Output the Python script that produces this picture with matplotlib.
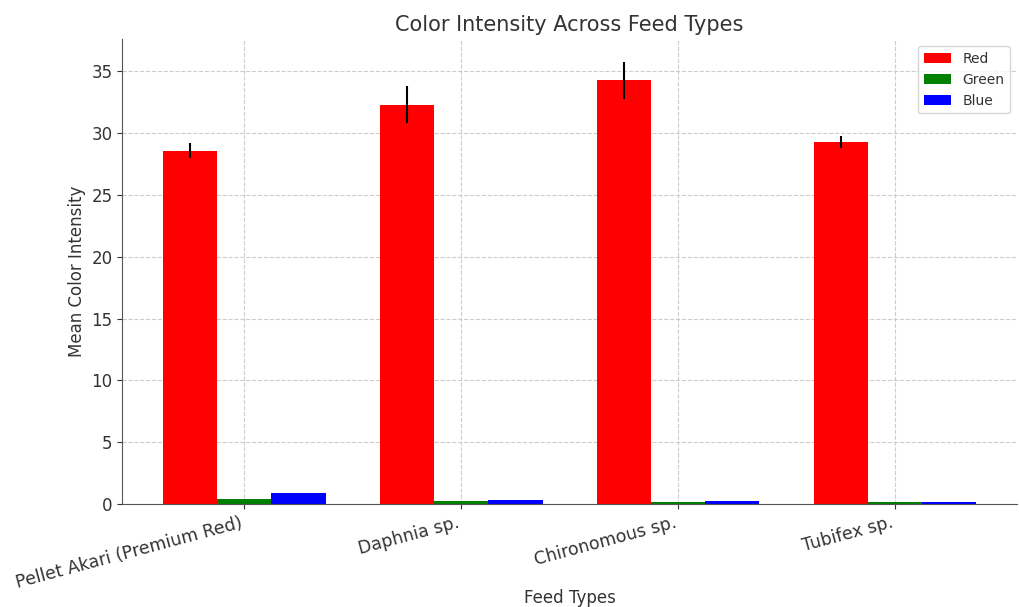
import numpy as np
import matplotlib
matplotlib.use("Agg")
import matplotlib.pyplot as plt

# data
feed_types = ["Pellet Akari (Premium Red)", "Daphnia sp.", "Chironomous sp.", "Tubifex sp."]
red_mean = [28.6, 32.3, 34.3, 29.3]
red_err = [0.6, 1.5, 1.5, 0.5]
green_mean = [0.4, 0.25, 0.15, 0.15]
blue_mean = [0.9, 0.3, 0.25, 0.15]

text_col = "#333333"
plt.rcParams["text.color"] = text_col
plt.rcParams["axes.labelcolor"] = text_col
plt.rcParams["xtick.color"] = text_col
plt.rcParams["ytick.color"] = text_col

x = np.arange(len(feed_types))
w = 0.25

fig, ax = plt.subplots(figsize=(10.2, 6.07), dpi=100)
ax.bar(x - w, red_mean, w, yerr=red_err, color="red", label="Red",
       error_kw=dict(ecolor="black", elinewidth=1.5))
ax.bar(x, green_mean, w, color="green", label="Green")
ax.bar(x + w, blue_mean, w, color="blue", label="Blue")

ax.set_title("Color Intensity Across Feed Types", fontsize=15)
ax.set_xlabel("Feed Types", fontsize=12)
ax.xaxis.set_label_coords(0.5, -0.183)
ax.set_ylabel("Mean Color Intensity", fontsize=12)
ax.set_xticks(x)
ax.set_xticklabels(feed_types, rotation=15, ha="right", fontsize=12.5)
ax.tick_params(axis="y", labelsize=12)

ax.grid(True, linestyle="--", color="#cccccc", linewidth=0.8)
ax.set_axisbelow(True)
ax.spines["top"].set_visible(False)
ax.spines["right"].set_visible(False)
ax.spines["left"].set_color("#555555")
ax.spines["bottom"].set_color("#555555")
ax.legend(loc="upper right", fontsize=10)

fig.subplots_adjust(left=0.12, right=0.997, top=0.935, bottom=0.17)
fig.savefig("out.png", dpi=100)
